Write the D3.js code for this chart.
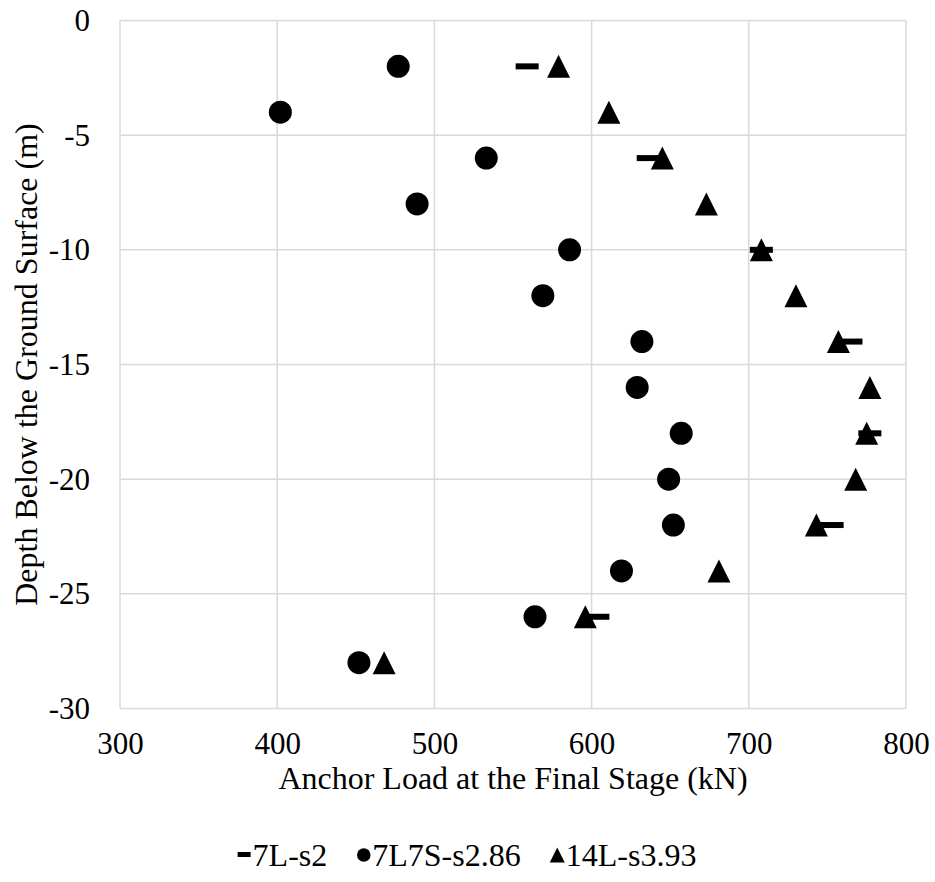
<!DOCTYPE html>
<html><head><meta charset="utf-8">
<script src="https://cdn.jsdelivr.net/npm/d3@7/dist/d3.min.js"></script>
<style>body{margin:0;background:#fff}svg{display:block}text{font-family:"Liberation Serif","Times New Roman",serif;fill:#000}</style>
</head><body><svg id="c" width="935" height="882"></svg>
<script>
const depthsAll = [-2,-4,-6,-8,-10,-12,-14,-16,-18,-20,-22,-24,-26,-28];
const depths7L = [-2,-6,-10,-14,-18,-22,-26];
const load7L = [559,636,708,765,777,753,604];
const load7L7S = [477,402,533,489,586,569,632,629,657,649,652,619,564,452];
const load14L = [579,611,645,673,708,730,757,777,775,768,743,681,596,468];
const xTicks = [300,400,500,600,700,800];
const yTicks = [0,-5,-10,-15,-20,-25,-30];
const seriesNames = ["7L-s2","7L7S-s2.86","14L-s3.93"];

const svg = d3.select("#c");
const L=120,R=906,T=20.5,B=708.5;
const x = d3.scaleLinear().domain([300,800]).range([L,R]);
const y = d3.scaleLinear().domain([0,-30]).range([T,B]);
const FS = 31, TFS = 32;

const g = svg.append("g");
g.selectAll("line.v").data(xTicks).join("line")
  .attr("x1",d=>x(d)).attr("x2",d=>x(d)).attr("y1",T).attr("y2",B)
  .attr("stroke","#d9d9d9").attr("stroke-width",1.5);
g.selectAll("line.h").data(yTicks).join("line")
  .attr("y1",d=>y(d)).attr("y2",d=>y(d)).attr("x1",L).attr("x2",R)
  .attr("stroke","#d9d9d9").attr("stroke-width",1.5);

const xa = svg.append("g").attr("transform",`translate(0,${B})`)
  .call(d3.axisBottom(x).tickValues(xTicks).tickSize(0).tickPadding(23).tickFormat(d3.format("d")));
const ya = svg.append("g").attr("transform",`translate(${L},0)`)
  .call(d3.axisLeft(y).tickValues(yTicks).tickSize(0).tickPadding(30).tickFormat(d=>String(d)));
[xa,ya].forEach(a=>{a.select(".domain").remove();a.selectAll("text").style("font-size",FS+"px").style("font-family",'"Liberation Serif",serif');});

svg.append("text").attr("x",(L+R)/2).attr("y",789).attr("text-anchor","middle")
  .style("font-size",TFS+"px").text("Anchor Load at the Final Stage (kN)");
svg.append("text").attr("transform",`translate(37,${(T+B)/2}) rotate(-90)`).attr("text-anchor","middle")
  .style("font-size",TFS+"px").text("Depth Below the Ground Surface (m)");

const DW=23, DH=6, CR=11.5, TS=23;
const tri = (cx,cy,s)=>`M${cx},${cy-s/2}L${cx+s/2},${cy+s/2}L${cx-s/2},${cy+s/2}Z`;
const d1 = depths7L.map((d,i)=>({x:load7L[i],y:d}));
const d2 = depthsAll.map((d,i)=>({x:load7L7S[i],y:d}));
const d3s = depthsAll.map((d,i)=>({x:load14L[i],y:d}));
g.selectAll("rect.m1").data(d1).join("rect")
  .attr("x",d=>x(d.x)-DW/2).attr("y",d=>y(d.y)-DH/2).attr("width",DW).attr("height",DH).attr("fill","#000");
g.selectAll("circle.m2").data(d2).join("circle")
  .attr("cx",d=>x(d.x)).attr("cy",d=>y(d.y)).attr("r",CR).attr("fill","#000");
g.selectAll("path.m3").data(d3s).join("path")
  .attr("d",d=>tri(x(d.x),y(d.y),TS)).attr("fill","#000");

const lg = svg.append("g");
const ly = 855;
const items = [];
const lfs = 32;
seriesNames.forEach((n,i)=>{
  const it = lg.append("g");
  if(i===0) it.append("rect").attr("x",0).attr("y",-3).attr("width",13).attr("height",5).attr("fill","#000");
  if(i===1) it.append("circle").attr("cx",6.5).attr("cy",0).attr("r",6.8).attr("fill","#000");
  if(i===2) it.append("path").attr("d",tri(6.5,0,15)).attr("fill","#000");
  const t = it.append("text").attr("x",15).attr("y",0).attr("dy","0.35em").style("font-size",lfs+"px").text(n);
  const w = 15 + t.node().getComputedTextLength();
  items.push({it,w});
});
const gap = 30;
const total = d3.sum(items,d=>d.w)+gap*(items.length-1);
let pos = 467 - total/2;
items.forEach(d=>{d.it.attr("transform",`translate(${pos},${ly})`);pos+=d.w+gap;});
</script></body></html>
